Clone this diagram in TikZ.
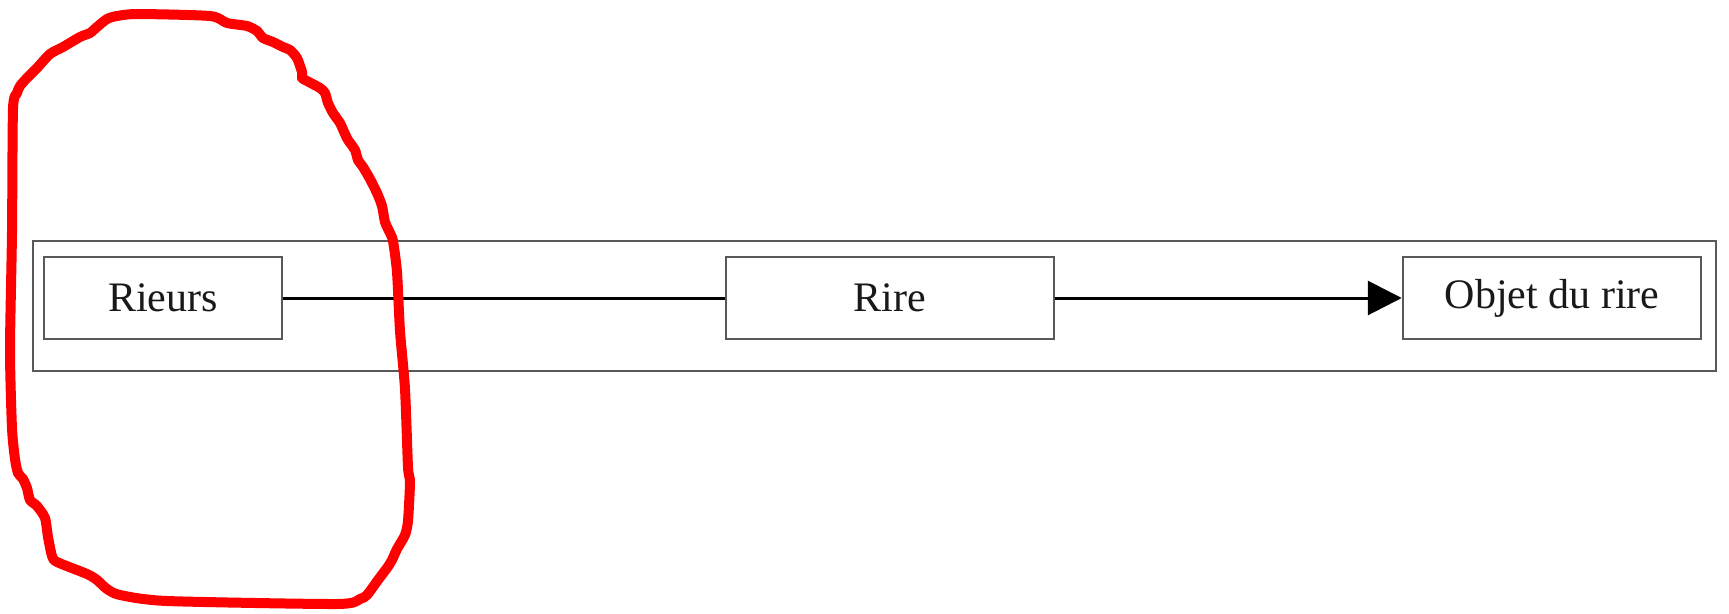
\documentclass[tikz,border=0pt]{standalone}
\usepackage{fontspec}
\setmainfont{Liberation Serif}
\usetikzlibrary{arrows.meta}
\begin{document}
\begin{tikzpicture}[x=1pt,y=-1pt,
  entity/.style={draw=black!65, line width=2.5pt, inner sep=0pt, minimum height=82pt, font=\fontsize{42}{46}\selectfont, text=black!90},
  frame/.style={draw=black!65, line width=2.6pt},
  link/.style={draw=black, line width=3pt},
  mark red/.style={draw=red, line width=10pt, line join=round, line cap=round}]
\useasboundingbox (0,0) rectangle (1729,613);
\draw[frame] (33,241) rectangle (1716,371);
\node[entity, minimum width=238pt] (rieurs) at (163,298) {Rieurs};
\node[entity, minimum width=328pt] (rire) at (890,298) {Rire};
\node[entity, minimum width=298pt] (objet) at (1552,298) {Objet du rire};
\draw[link] (rieurs.east) -- (rire.west);
\draw[link, -{Triangle[length=34pt,width=34pt]}] (rire.east) -- (objet.west);
\draw[mark red] plot[smooth cycle, tension=0.4] coordinates {
(138,14) (210,16) (227,23) (247,26) (257,31) (263,38) (273,42) (283,47) (290,50)
(297,58) (302,72) (302,78) (307,81) (320,88) (325,93) (328,103) (333,113) (340,123)
(345,134) (348,140) (355,150) (358,160) (363,167) (370,179) (377,193) (382,206)
(385,222) (390,233) (393,241) (397,272) (400,331) (405,389) (408,467) (410,482)
(408,521) (405,535) (397,549) (392,560) (387,568) (378,580) (367,595) (360,599)
(337,604) (167,601) (120,595) (107,589) (97,580) (87,574) (57,562) (52,556)
(48,537) (45,518) (37,506) (30,500) (27,488) (23,479) (18,473) (15,459) (12,428)
(10,350) (12,233) (13,109) (17,93) (20,86) (27,78) (37,68) (50,54) (63,47)
(80,37) (90,33) (97,27) (107,19) (117,16)};
\end{tikzpicture}
\end{document}
